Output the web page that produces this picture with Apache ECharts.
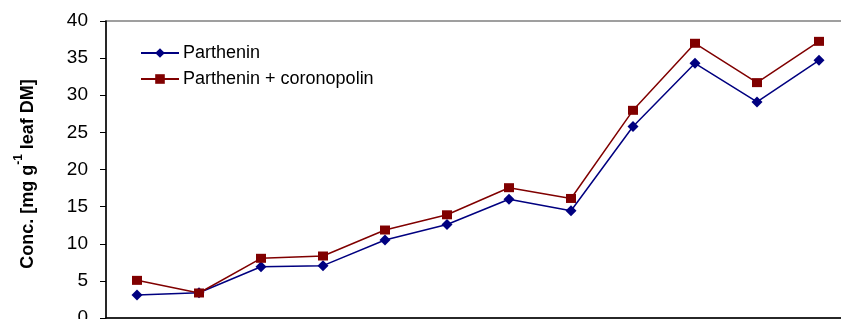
<!DOCTYPE html>
<html><head><meta charset="utf-8">
<script src="https://cdn.jsdelivr.net/npm/echarts@6/dist/echarts.min.js"></script>
<style>html,body{margin:0;padding:0;background:#fff}#c{width:841px;height:319px}</style>
</head><body><div id="c"></div>
<script>
const categories = ['1','2','3','4','5','6','7','8','9','10','11','12'];
const parthenin = [3.1, 3.4, 6.9, 7.05, 10.5, 12.6, 16.0, 14.45, 25.8, 34.3, 29.1, 34.7];
const partheninCoronopolin = [5.07, 3.37, 8.04, 8.35, 11.85, 13.9, 17.55, 16.1, 27.97, 37.0, 31.7, 37.26];
const yTicks = [0, 40, 5];
const yTitle = ['Conc. [mg g', '-1', ' leaf DM]'];

const chart = echarts.init(document.getElementById('c'), null, {renderer: 'canvas'});
chart.setOption({
  animation: false,
  backgroundColor: '#fff',
  grid: {left: 106, top: 21, width: 744, height: 297, outerBoundsMode: 'none', containLabel: false,
         show: true, borderColor: '#808080', borderWidth: 1.5, backgroundColor: 'transparent'},
  legend: {
    orient: 'vertical', left: 140, top: 44, padding: 0, itemWidth: 38, itemHeight: 12, itemGap: 8,
    textStyle: {fontFamily: 'Liberation Sans, Arial', fontSize: 18, color: '#000', padding: [0,0,0,-1]},
    data: ['Parthenin', 'Parthenin + coronopolin']
  },
  graphic: [{
    type: 'text', x: 25, y: 174, rotation: Math.PI / 2,
    style: {
      text: '{b|' + yTitle[0] + '}{s|' + yTitle[1] + '}{b|' + yTitle[2] + '}',
      align: 'center', verticalAlign: 'middle',
      rich: {
        b: {fontFamily: 'Liberation Sans, Arial', fontWeight: 'bold', fontSize: 18, fill: '#000', lineHeight: 24, verticalAlign: 'bottom'},
        s: {fontFamily: 'Liberation Sans, Arial', fontWeight: 'bold', fontSize: 12, fill: '#000', lineHeight: 24, verticalAlign: 'top'}
      }
    }
  }],
  xAxis: {
    type: 'category', data: categories, boundaryGap: true,
    axisLine: {lineStyle: {color: '#000', width: 1.5}},
    axisTick: {show: false}, axisLabel: {show: false}, splitLine: {show: false}
  },
  yAxis: {
    type: 'value', min: yTicks[0], max: yTicks[1], interval: yTicks[2],
    axisLine: {show: true, lineStyle: {color: '#000', width: 1.5}},
    axisTick: {show: true, length: 6, lineStyle: {color: '#000', width: 1}},
    axisLabel: {margin: 18, fontFamily: 'Liberation Sans, Arial', fontSize: 19, color: '#000'},
    splitLine: {show: false}
  },
  series: [
    {name: 'Parthenin', type: 'line', data: parthenin, symbol: 'diamond', symbolSize: [11, 11],
     itemStyle: {color: '#000080'}, lineStyle: {color: '#000080', width: 1.5}},
    {name: 'Parthenin + coronopolin', type: 'line', data: partheninCoronopolin, symbol: 'rect', symbolSize: [10, 9],
     itemStyle: {color: '#800000'}, lineStyle: {color: '#800000', width: 1.5}}
  ]
});
</script></body></html>
